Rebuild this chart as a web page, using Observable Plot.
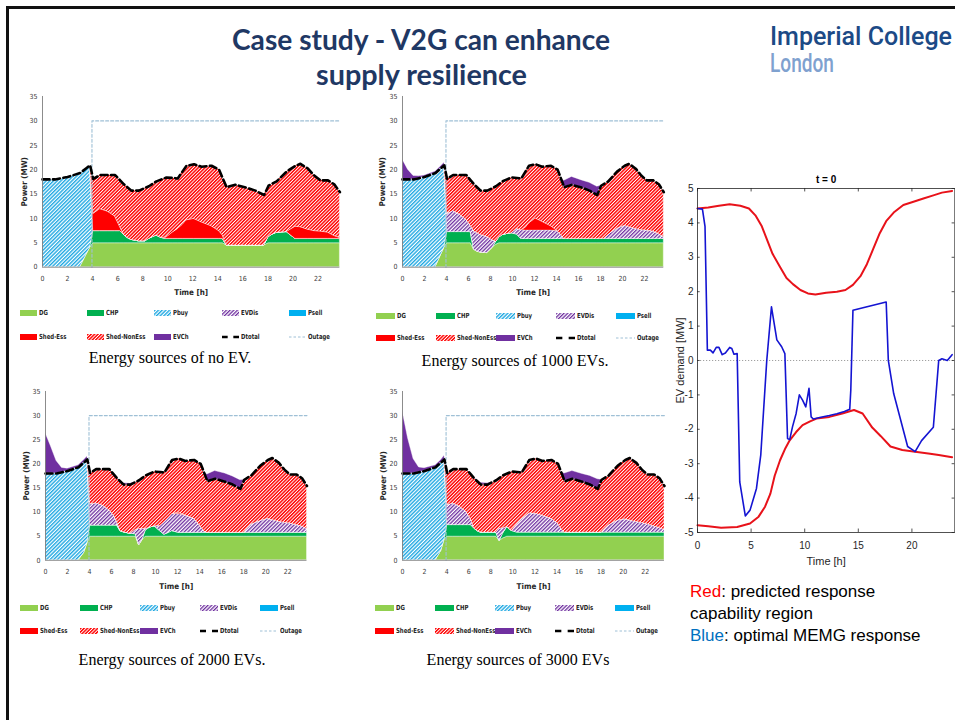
<!DOCTYPE html>
<html><head><meta charset="utf-8">
<script src="https://cdn.jsdelivr.net/npm/d3@7"></script>
<script src="https://cdn.jsdelivr.net/npm/@observablehq/plot@0.6"></script>
<style>
html,body{margin:0;padding:0;background:#fff;}
#page{position:relative;width:955px;height:720px;overflow:hidden;background:#fff;}
.cap{position:absolute;font-family:"Liberation Serif","Times New Roman",serif;font-size:16px;color:#000;white-space:nowrap;transform:translate(-50%,-50%);}
.legtxt{position:absolute;font-family:"Liberation Sans Narrow","DejaVu Sans Condensed",sans-serif;font-size:7px;font-weight:bold;color:#262626;white-space:nowrap;line-height:10px;transform:scaleX(0.85);transform-origin:0 50%;}
.note{position:absolute;left:690px;top:581px;font-family:"Liberation Sans",Arial,sans-serif;font-size:17px;line-height:22px;color:#000;white-space:nowrap;}
</style></head>
<body>
<div id="page">
<svg width="0" height="0" style="position:absolute;left:0;top:0">
<defs>
<pattern id="hRed" patternUnits="userSpaceOnUse" width="2.4" height="2.4" patternTransform="rotate(45)">
<rect width="2.4" height="2.4" fill="#ffffff"/><rect width="1.45" height="2.4" fill="#ff0000"/></pattern>
<pattern id="hBlue" patternUnits="userSpaceOnUse" width="2.6" height="2.6" patternTransform="rotate(45)">
<rect width="2.6" height="2.6" fill="#ffffff"/><rect width="1.4" height="2.6" fill="#1fa8e2"/></pattern>
<pattern id="hPurple" patternUnits="userSpaceOnUse" width="2.6" height="2.6" patternTransform="rotate(45)">
<rect width="2.6" height="2.6" fill="#ffffff"/><rect width="1.3" height="2.6" fill="#7030a0"/></pattern>
</defs></svg>
</div>
<script>
// ---------- shared data ----------
const time = [
  0, 0.5, 1, 1.5, 2, 3, 3.5,
  3.8, 4.05, 4.6, 5.2, 5.8, 6.2, 6.5,
  6.8, 7.1, 7.7, 8.2, 8.5, 8.8, 9.1,
  9.5, 9.9, 10.4, 10.8, 11.2, 11.5, 12.1,
  12.7, 13.5, 14.1, 14.4, 14.7, 15.4, 16.3,
  17.0, 17.7, 18.05, 18.3, 18.7, 19.5, 20.2,
  20.6, 21.2, 21.7, 22.2, 22.8, 23.3, 23.75];
const dtotal = [
  18.0, 18.0, 18.0, 18.25, 18.5, 19.3, 20.3,
  20.9, 18.1, 18.9, 18.9, 18.9, 17.8, 17.0,
  16.35, 15.7, 15.7, 16.25, 16.6, 17.1, 17.6,
  18.0, 18.4, 18.3, 18.2, 19.7, 20.8, 21.1,
  20.6, 20.8, 20.0, 18.2, 16.4, 16.9, 16.3,
  15.7, 14.8, 16.7, 17.05, 17.6, 19.6, 20.8,
  21.2, 20.2, 18.8, 17.8, 17.8, 17.0, 15.4];
const outageT = [3.95, 3.95, 23.75];
const outageV = [0, 30, 30];
const xTicks = [0, 2, 4, 6, 8, 10, 12, 14, 16, 18, 20, 22];
const yTicks = [0, 5, 10, 15, 20, 25, 30, 35];
const seriesOrder = ["DG", "CHP", "Pbuy", "EVDis", "Shed-Ess", "Shed-NonEss", "EVCh"];
const seriesFill = ["#92d050", "#00b050", "url(#hBlue)", "url(#hPurple)", "#ff0000", "url(#hRed)", "#7030a0"];

// ---------- chart 1 : no EV ----------
const dg1 = [0,0,0,0,0,0,2.5, 4.0,4.9,4.9,4.9,4.9,4.9,4.9, 4.9,4.9,4.9,4.9,4.9,4.9,4.9, 4.9,4.9,4.9,4.9,4.9,4.9,4.9, 4.9,4.9,4.9,4.9,4.45,4.45,4.45, 4.45,4.45,4.9,4.9,4.9,4.9,4.9, 4.9,4.9,4.9,4.9,4.9,4.9,4.9];
const chp1 = [0,0,0,0,0,0,0, 0,2.5,2.5,2.5,2.5,2.5,1.75, 1.1,0.7,0.4,0.4,0.9,1.25,1.6, 1.1,0.9,0.9,0.9,0.9,0.9,0.9, 0.9,0.9,0.9,0.9,0,0,0, 0,0,1.25,1.7,2.15,2.3,0.9, 0.9,0.9,0.9,0.9,0.9,0.9,0.9];
const pbuy1 = [18.0,18.0,18.0,18.25,18.5,19.3,17.8, 16.9,0,0,0,0,0,0, 0,0,0,0,0,0,0, 0,0,0,0,0,0,0, 0,0,0,0,0,0,0, 0,0,0,0,0,0,0, 0,0,0,0,0,0,0];
const evdis1 = [0,0,0,0,0,0,0, 0,0,0,0,0,0,0, 0,0,0,0,0,0,0, 0,0,0,0,0,0,0, 0,0,0,0,0,0,0, 0,0,0,0,0,0,0, 0,0,0,0,0,0,0];
const shedEss1 = [0,0,0,0,0,0,0, 0,3.5,4.5,4.0,3.0,0.8,0, 0,0,0,0,0,0,0, 0,0.3,1.3,2.0,2.9,3.8,4.1, 3.4,2.6,1.6,0.7,0,0,0, 0,0,0,0,0,0,2.5, 2.4,1.9,1.6,1.5,1.3,0.6,0.2];
const shedNon1 = [0,0,0,0,0,0,0, 0,7.2,7.0,7.5,8.5,9.6,10.35, 10.35,10.1,10.4,10.95,10.8,10.95,11.1, 12.0,12.3,11.2,10.4,11.0,11.2,11.2, 11.4,12.4,12.6,11.7,11.95,12.45,11.85, 11.25,10.35,10.55,10.45,10.55,12.4,12.5, 13.0,12.6,11.5,10.6,10.8,10.6,9.4];
const evch1 = [0,0,0,0,0,0,0, 0,0,0,0,0,0,0, 0,0,0,0,0,0,0, 0,0,0,0,0,0,0, 0,0,0,0,0,0,0, 0,0,0,0,0,0,0, 0,0,0,0,0,0,0];

// ---------- chart 2 : 1000 EVs ----------
const dg2 = [0,0,0,0,0,0,2.5, 4.0,4.9,4.9,4.9,4.9,4.9,3.6, 3.2,3.0,2.9,4.0,4.6,4.9,4.9, 4.9,4.9,4.9,4.9,4.9,4.9,4.9, 4.9,4.9,4.9,4.9,4.9,4.9,4.9, 4.9,4.9,4.9,4.9,4.9,4.9,4.9, 4.9,4.9,4.9,4.9,4.9,4.9,4.9];
const chp2 = [0,0,0,0,0,0,0, 0,2.3,2.3,2.3,2.3,2.3,0, 0,0,0,0,0.6,1.2,1.7, 1.9,2.05,1.8,0.9,0.9,0.9,0.9, 0.9,0.9,0.9,0.9,0.9,0.9,0.9, 0.9,0.9,0.9,0.9,0.9,0.9,0.9, 0.9,0.9,0.9,0.9,0.9,0.9,0.9];
const pbuy2 = [18.0,18.0,18.0,18.25,18.5,19.3,17.8, 16.9,0,0,0,0,0,0, 0,0,0,0,0,0,0, 0,0,0,0,0,0,0, 0,0,0,0,0,0,0, 0,0,0,0,0,0,0, 0,0,0,0,0,0,0];
const evdis2 = [0,0,0,0,0,0,0, 0,3.7,4.3,3.6,2.5,1.3,3.7, 3.8,3.6,3.3,1.5,0,0,0, 0,0,1.15,1.8,1.7,1.7,1.7, 1.7,1.7,1.6,0.8,0,0,0, 0,0,0,0,0.8,2.1,2.7, 2.4,2.05,1.8,1.7,1.5,1.0,0.35];
const shedEss2 = [0,0,0,0,0,0,0, 0,0,0,0,0,0,0, 0,0,0,0,0,0,0, 0,0,0,0,0.6,1.45,2.5, 1.8,0.9,0,0,0,0,0, 0,0,0,0,0,0,0, 0,0,0,0,0,0,0];
const shedNon2 = [0,0,0,0,0,0,0, 0,7.2,7.4,8.1,9.2,9.3,9.7, 9.35,9.1,9.5,10.75,11.4,11.0,11.0, 11.2,11.45,10.45,10.6,11.6,11.85,11.1, 11.3,12.4,12.6,11.6,10.6,11.1,10.5, 9.9,9.0,10.9,11.25,11.0,11.7,12.3, 13.0,12.35,11.2,10.3,10.5,10.2,9.25];
const evch2 = [4.1,2.0,0.7,0.4,0.3,0.3,0.4, 0.5,0,0,0,0,0,0, 0,0,0,0,0,0,0, 0,0,0,0,0,0,0, 0,0,0,0,1.3,1.6,1.5, 1.6,1.7,0,0,0,0,0, 0,0,0,0,0,0,0];

// ---------- chart 3 : 2000 EVs ----------
const dg3 = [0,0,0,0,0,0,1.5, 3.5,4.9,4.9,4.9,4.9,4.9,4.9, 4.9,4.9,4.9,4.9,3.1,4.2,4.9, 4.9,4.9,4.9,4.9,4.9,4.9,4.9, 4.9,4.9,4.9,4.9,4.9,4.9,4.9, 4.9,4.9,4.9,4.9,4.9,4.9,4.9, 4.9,4.9,4.9,4.9,4.9,4.9,4.9];
const chp3 = [0,0,0,0,0,0,0, 0,2.3,2.3,2.3,2.3,2.3,2.3, 1.15,0.9,0.6,0.5,0,0,1.3, 1.9,2.15,1.15,0.4,0.8,1.15,0.8, 0.8,0.8,0.8,0.8,0.8,0.8,0.8, 0.8,0.8,0.8,0.8,0.8,0.8,0.8, 0.8,0.8,0.8,0.8,0.8,0.8,0.8];
const pbuy3 = [18.0,18.0,18.0,18.25,18.5,19.3,18.8, 17.4,0,0,0,0,0,0, 0,0,0,0,0,0,0, 0,0,0,0,0,0,0, 0,0,0,0,0,0,0, 0,0,0,0,0,0,0, 0,0,0,0,0,0,0];
const evdis3 = [0,0,0,0,0,0,0, 0,4.4,4.6,4.15,3.2,2.1,0.8, 0,0,0,0.9,3.4,2.3,0.3, 0,0,1.05,2.6,3.1,3.55,3.9, 3.6,2.9,1.3,0.3,0,0,0, 0,0,0,0.8,1.7,2.45,2.9, 2.65,2.3,2.1,1.95,1.6,1.3,0.8];
const shedEss3 = [0,0,0,0,0,0,0, 0,0,0,0,0,0,0, 0,0,0,0,0,0,0, 0,0,0,0,0,0,0.3, 0,0,0,0,0,0,0, 0,0,0,0,0,0,0, 0,0,0,0,0,0,0];
const shedNon3 = [0,0,0,0,0,0,0, 0,6.5,7.1,7.55,8.5,8.5,9.0, 10.3,9.9,10.2,9.95,10.1,10.6,11.1, 11.2,11.35,11.2,10.3,10.9,11.2,11.2, 11.3,12.2,13.0,12.2,10.7,11.2,10.6, 10.0,9.1,11.0,10.55,10.2,11.45,12.2, 12.85,12.2,11.0,10.15,10.5,10.0,8.9];
const evch3 = [8.4,5.6,2.6,0.9,0.5,0.4,0.5, 0.6,0,0,0,0,0,0, 0.2,0.3,0.2,0,0,0,0, 0,0,0,0,0,0,0, 0,0,0,0,1.4,1.6,1.7, 1.7,1.8,0,0,0,0,0, 0,0,0,0,0,0,0];

// ---------- chart 4 : 3000 EVs ----------
const dg4 = [0,0,0,0,0,0,1.9, 4.2,4.9,4.9,4.9,4.9,4.9,4.9, 4.9,4.9,4.9,4.9,4.9,4.0,4.5, 4.9,4.9,4.9,4.9,4.9,4.9,4.9, 4.9,4.9,4.9,4.9,4.9,4.9,4.9, 4.9,4.9,4.9,4.9,4.9,4.9,4.9, 4.9,4.9,4.9,4.9,4.9,4.9,4.9];
const chp4 = [0,0,0,0,0,0,0, 0,2.4,2.4,2.4,2.4,2.4,1.7, 1.15,0.85,0.85,0.85,0.85,0,1.0, 2.0,1.2,0.85,0.85,0.85,0.85,0.85, 0.85,0.85,0.85,0.85,0.85,0.85,0.85, 0.85,0.85,0.85,0.85,0.85,0.85,0.85, 0.85,0.85,0.85,0.85,0.85,0.85,0.85];
const pbuy4 = [18.0,18.0,18.0,18.25,18.5,19.3,18.4, 16.7,0,0,0,0,0,0, 0,0,0,0,0,0,0, 0,0,0,0,0,0,0, 0,0,0,0,0,0,0, 0,0,0,0,0,0,0, 0,0,0,0,0,0,0];
const evdis4 = [0,0,0,0,0,0,0, 0,4.1,4.5,3.8,2.7,1.2,0, 0,0,0,0,0,2.6,1.1, 0,0,1.75,2.75,3.45,4.0,3.9, 3.5,2.85,1.85,0.75,0,0,0, 0,0,0,0.65,1.5,2.5,2.75, 2.5,2.2,2.0,1.75,1.3,0.95,0.55];
const shedEss4 = [0,0,0,0,0,0,0, 0,0,0,0,0,0,0, 0,0,0,0,0,0,0, 0,0,0,0,0,0,0, 0,0,0,0,0,0,0, 0,0,0,0,0,0,0, 0,0,0,0,0,0,0];
const shedNon4 = [0,0,0,0,0,0,0, 0,6.7,7.1,7.8,8.9,9.3,10.4, 10.3,9.95,9.95,10.5,10.85,10.5,11.0, 11.1,12.3,10.8,9.7,10.5,11.05,11.45, 11.35,12.2,12.4,11.7,10.65,11.15,10.55, 9.95,9.05,10.95,10.65,10.35,11.35,12.3, 12.95,12.25,11.05,10.3,10.75,10.3,9.1];
const evch4 = [13.0,7.3,3.0,1.0,0.6,0.4,0.5, 0.8,0,0,0,0,0,0, 0.3,0.4,0.3,0,0,0,0, 0,0,0,0,0,0,0, 0,0,0,0,1.6,1.6,1.6, 1.8,2.0,0,0,0,0,0, 0,0,0,0,0,0,0];

// ---------- EV demand chart ----------
const upT = [0,1,2,3,4,4.8,5.4,6,6.5,7,7.7,8.3,8.9,9.6,10.3,11,12,13,13.8,14.5,15.2,15.8,16.4,17,17.6,18.3,19.2,20,21,22,22.8,23.75];
const upV = [4.42,4.45,4.5,4.54,4.5,4.42,4.22,3.9,3.5,3.1,2.72,2.4,2.22,2.05,1.95,1.92,1.97,2.0,2.05,2.2,2.45,2.8,3.25,3.7,4.05,4.3,4.52,4.6,4.7,4.8,4.88,4.93];
const loT = [0,1,2.2,3.7,4.9,5.7,6.3,6.8,7.2,7.7,8.2,8.6,9.2,9.8,10.5,11.1,12.3,13.5,14.6,15.4,16.3,17.1,18.0,19.1,20.3,21.7,22.5,23.75];
const loV = [-4.79,-4.82,-4.86,-4.84,-4.74,-4.54,-4.25,-3.87,-3.35,-2.9,-2.55,-2.32,-2.08,-1.88,-1.77,-1.69,-1.64,-1.54,-1.44,-1.54,-1.95,-2.2,-2.5,-2.6,-2.65,-2.71,-2.75,-2.81];
const memgT = [0,0.46,0.7,0.92,1.2,1.45,1.75,2.0,2.3,2.6,3.0,3.2,3.4,3.7,3.94,4.46,4.9,5.5,5.9,6.46,6.9,7.4,7.85,8.15,8.4,8.6,8.86,9.2,9.5,9.8,10.1,10.4,10.6,10.8,11.5,12.3,13.0,13.7,14.2,14.3,14.5,17.6,17.8,18.3,19.6,20.3,20.9,22.0,22.5,22.8,23.3,23.75];
const memgV = [4.42,4.4,3.9,0.3,0.3,0.22,0.38,0.38,0.17,0.22,0.38,0.35,0.18,0.2,-3.53,-4.52,-4.35,-3.72,-2.75,0,1.56,0.6,0.4,0.2,-2.27,-2.3,-1.93,-1.54,-1.0,-1.15,-1.35,-0.81,-1.64,-1.7,-1.65,-1.6,-1.55,-1.48,-1.42,-0.86,1.46,1.7,0,-0.96,-2.5,-2.65,-2.33,-1.94,0,0.05,0,0.17];
const evXTicks = [0, 5, 10, 15, 20];
const evYTicks = [-5, -4, -3, -2, -1, 0, 1, 2, 3, 4, 5];

// ---------- layout ----------
const charts = [
  {L: 42.3, R: 339.7, T: 96, B: 266.7, ylabDx: -18.5,
   values: [dg1, chp1, pbuy1, evdis1, shedEss1, shedNon1, evch1],
   legend: {x0: 20, step: 67.2, sw: 17, y1: 313, y2: 337},
   caption: {x: 170, y: 358, text: "Energy sources of no EV."}},
  {L: 402.3, R: 663.6, T: 96, B: 266.7, ylabDx: -20.5,
   values: [dg2, chp2, pbuy2, evdis2, shedEss2, shedNon2, evch2],
   legend: {x0: 376, step: 60, sw: 19, y1: 315.5, y2: 338},
   caption: {x: 515, y: 361, text: "Energy sources of 1000 EVs."}},
  {L: 45, R: 306.5, T: 390.5, B: 559.3, ylabDx: -19,
   values: [dg3, chp3, pbuy3, evdis3, shedEss3, shedNon3, evch3],
   legend: {x0: 20, step: 60, sw: 18, y1: 607.5, y2: 631},
   caption: {x: 172, y: 660, text: "Energy sources of 2000 EVs."}},
  {L: 401.7, R: 663.7, T: 390.5, B: 559.3, ylabDx: -19,
   values: [dg4, chp4, pbuy4, evdis4, shedEss4, shedNon4, evch4],
   legend: {x0: 375, step: 60, sw: 19, y1: 608, y2: 631},
   caption: {x: 518, y: 660, text: "Energy sources of 3000 EVs"}}
];

const page = document.getElementById("page");
function place(el, x, y) {
  el.style.position = "absolute"; el.style.left = x + "px"; el.style.top = y + "px";
  page.appendChild(el);
}
const AXFONT = '"Liberation Sans Narrow","DejaVu Sans Condensed",sans-serif';

function stackChart(c) {
  const rows = [];
  seriesOrder.forEach((name, k) => {
    c.values[k].forEach((v, i) => rows.push({time: time[i], series: name, value: v}));
  });
  const dRows = time.map((t, i) => ({time: t, d: dtotal[i]}));
  const oRows = outageT.map((t, i) => ({time: t, v: outageV[i]}));
  const ml = 40, mt = 8, mr = 8, mb = 36;
  const w = c.R - c.L, h = c.B - c.T;
  const fig = Plot.plot({
    width: ml + w + mr, height: mt + h + mb,
    marginLeft: ml, marginRight: mr, marginTop: mt, marginBottom: mb,
    style: {background: "transparent", overflow: "visible", maxWidth: "none", fontFamily: AXFONT, fontSize: "7px", color: "#404040"},
    x: {domain: [0, 23.75]},
    y: {domain: [0, 35]},
    color: {type: "ordinal", domain: seriesOrder, range: seriesFill},
    marks: [
      Plot.areaY(rows, {x: "time", y: "value", fill: "series", order: seriesOrder, stroke: "white", strokeWidth: 0.4}),
      Plot.line(oRows, {x: "time", y: "v", stroke: "#9fc0d6", strokeWidth: 1.1, strokeDasharray: "3,2"}),
      Plot.line(dRows, {x: "time", y: "d", stroke: "#000", strokeWidth: 2.6, strokeDasharray: "7,3.5"}),
      Plot.ruleX([0], {y1: 0, y2: 35, stroke: "#7f7f7f", strokeWidth: 0.9}),
      Plot.ruleY([0], {stroke: "#7f7f7f", strokeWidth: 0.9}),
      Plot.axisX({ticks: xTicks, tickSize: 0, tickPadding: 9, label: null}),
      Plot.axisY({ticks: yTicks, tickSize: 0, tickPadding: 5, label: null}),
      Plot.text(["Time [h]"], {text: d => d, frameAnchor: "bottom", dy: 28.3, fontSize: 8, fontWeight: "bold", fill: "#262626"}),
      Plot.text(["Power (MW)"], {text: d => d, frameAnchor: "left", dx: c.ylabDx, rotate: -90, textAnchor: "middle", fontSize: 8, fontWeight: "bold", fill: "#262626"})
    ]
  });
  const div = document.createElement("div");
  div.style.width = (ml + w + mr) + "px";
  div.appendChild(fig);
  place(div, c.L - ml, c.T - mt);

  // legend
  const row1 = [["DG", "#92d050"], ["CHP", "#00b050"], ["Pbuy", "url(#hBlue)"], ["EVDis", "url(#hPurple)"], ["Psell", "#00b0f0"]];
  const row2 = [["Shed-Ess", "#ff0000"], ["Shed-NonEss", "url(#hRed)"], ["EVCh", "#7030a0"], ["Dtotal", "dash"], ["Outage", "dot"]];
  const lg = c.legend;
  [row1, row2].forEach((row, r) => {
    row.forEach(([name, fill], i) => {
      const x = lg.x0 + i * lg.step, y = r ? lg.y2 : lg.y1;
      const sw = document.createElement("div");
      let inner;
      if (fill === "dash") inner = `<line x1="0" x2="${lg.sw}" y1="3" y2="3" stroke="#000" stroke-width="2.6" stroke-dasharray="${lg.sw / 3},${lg.sw / 3}"/>`;
      else if (fill === "dot") inner = `<line x1="0" x2="${lg.sw}" y1="3" y2="3" stroke="#9fc0d6" stroke-width="1" stroke-dasharray="2.5,2"/>`;
      else inner = `<rect x="0" y="0" width="${lg.sw}" height="6" fill="${fill}"/>`;
      sw.innerHTML = `<svg width="${lg.sw}" height="6" style="display:block">${inner}</svg>`;
      place(sw, x, y - 3);
      const tx = document.createElement("div");
      tx.className = "legtxt"; tx.textContent = name;
      place(tx, x + lg.sw + 2, y - 5);
    });
  });
  const cap = document.createElement("div");
  cap.className = "cap"; cap.textContent = c.caption.text;
  place(cap, c.caption.x, c.caption.y);
}
charts.forEach(stackChart);

// EV demand chart
(function evChart() {
  const L = 696.7, R = 954, T = 188, B = 532;
  const ml = 32, mt = 20, mr = 1, mb = 42;
  const upRows = upT.map((t, i) => ({t, v: upV[i]}));
  const loRows = loT.map((t, i) => ({t, v: loV[i]}));
  const mRows = memgT.map((t, i) => ({t, v: memgV[i]}));
  const fig = Plot.plot({
    width: ml + (R - L) + mr, height: mt + (B - T) + mb,
    marginLeft: ml, marginRight: mr, marginTop: mt, marginBottom: mb,
    style: {background: "transparent", overflow: "visible", maxWidth: "none", fontFamily: '"Liberation Sans",Arial,sans-serif', fontSize: "10px", color: "#262626"},
    x: {domain: [0, 24]},
    y: {domain: [-5, 5]},
    marks: [
      Plot.ruleY([0], {stroke: "#a0a0a0", strokeWidth: 1, strokeDasharray: "1.2,1.8"}),
      Plot.line(upRows, {x: "t", y: "v", stroke: "#e8121a", strokeWidth: 2}),
      Plot.line(loRows, {x: "t", y: "v", stroke: "#e8121a", strokeWidth: 2}),
      Plot.line(mRows, {x: "t", y: "v", stroke: "#1414d2", strokeWidth: 1.6}),
      Plot.frame({stroke: "#262626", strokeWidth: 0.8}),
      Plot.ruleX(evXTicks, {y1: -5, y2: -4.9, stroke: "#262626", strokeWidth: 0.8}),
      Plot.ruleX(evXTicks, {y1: 4.9, y2: 5, stroke: "#262626", strokeWidth: 0.8}),
      Plot.ruleY(evYTicks, {x1: 0, x2: 0.25, stroke: "#262626", strokeWidth: 0.8}),
      Plot.ruleY(evYTicks, {x1: 23.75, x2: 24, stroke: "#262626", strokeWidth: 0.8}),
      Plot.axisX({ticks: evXTicks, tickSize: 0, tickPadding: 9, label: null, tickFormat: d => String(d)}),
      Plot.axisY({ticks: evYTicks, tickSize: 0, tickPadding: 4, label: null, tickFormat: d => String(d)}),
      Plot.text(["t = 0"], {text: d => d, frameAnchor: "top", dy: -13, fontWeight: "bold", fontSize: 10, fill: "#000"}),
      Plot.text(["Time [h]"], {text: d => d, frameAnchor: "bottom", dy: 33, fontSize: 11, fill: "#262626"}),
      Plot.text(["EV demand [MW]"], {text: d => d, frameAnchor: "left", dx: -16.7, rotate: -90, textAnchor: "middle", fontSize: 11, fill: "#262626"})
    ]
  });
  const div = document.createElement("div");
  div.style.width = (ml + (R - L) + mr) + "px";
  div.appendChild(fig);
  place(div, L - ml, T - mt);
})();

// note text
const note = document.createElement("div");
note.className = "note";
note.innerHTML = '<span style="color:#ff0000">Red</span>: predicted response<br>capability region<br><span style="color:#0070c0">Blue</span>: optimal MEMG response';
page.appendChild(note);

// title, logo, frame lines
const head = document.createElement("div");
head.innerHTML = `<svg width="955" height="100" style="display:block">
<text x="421" y="50" text-anchor="middle" font-family="Lato, 'Open Sans', sans-serif" font-weight="bold" font-size="29" fill="#1f3864" textLength="378" lengthAdjust="spacingAndGlyphs">Case study - V2G can enhance</text>
<text x="421.5" y="85" text-anchor="middle" font-family="Lato, 'Open Sans', sans-serif" font-weight="bold" font-size="29" fill="#1f3864" textLength="211" lengthAdjust="spacingAndGlyphs">supply resilience</text>
<text x="770" y="45" font-family="Roboto, 'Open Sans', sans-serif" font-weight="500" font-size="25" fill="#1c4a86" textLength="182" lengthAdjust="spacingAndGlyphs">Imperial College</text>
<text x="770" y="72" font-family="Roboto, 'Open Sans', sans-serif" font-weight="500" font-size="25" fill="#7fa1cf" textLength="64" lengthAdjust="spacingAndGlyphs">London</text>
</svg>`;
place(head, 0, 0);
const topLine = document.createElement("div");
topLine.style.cssText = "width:949px;height:3px;background:#111;";
place(topLine, 6, 6);
const leftLine = document.createElement("div");
leftLine.style.cssText = "width:2.6px;height:714px;background:#111;";
place(leftLine, 6, 6);
</script>
</body></html>
